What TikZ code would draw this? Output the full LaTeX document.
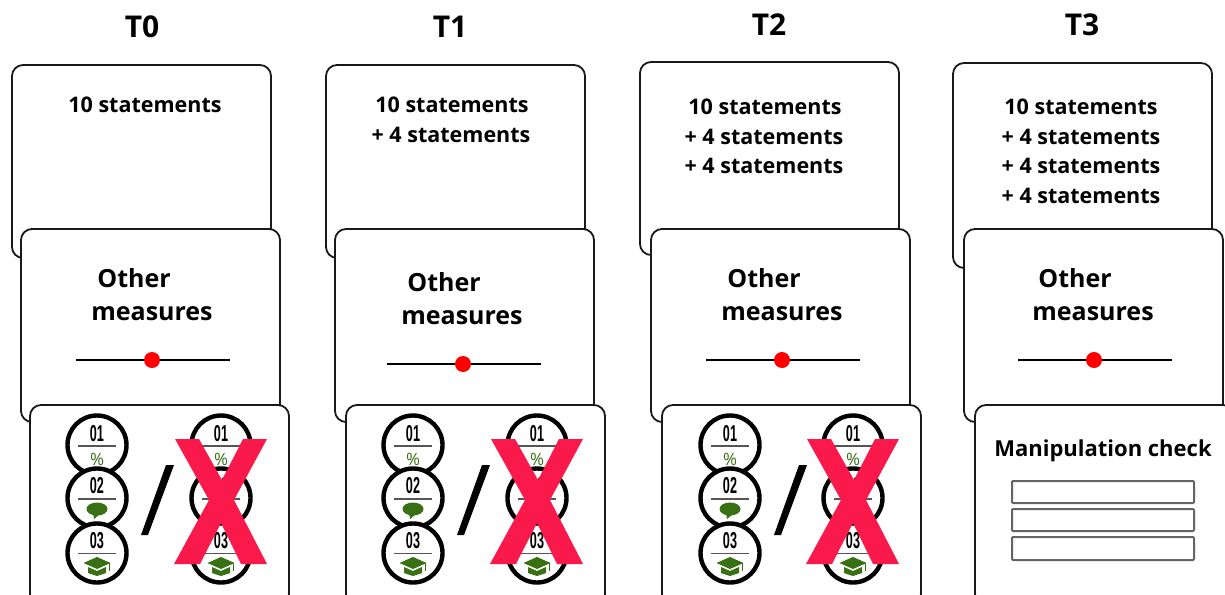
\documentclass[tikz,border=0pt]{standalone}
\usepackage{fontspec}
\setmainfont{Open Sans}
\newfontfamily\numfont{Liberation Sans}
\definecolor{xred}{RGB}{250,25,75}
\definecolor{icongreen}{RGB}{58,112,20}
\definecolor{boxgray}{RGB}{100,100,100}
\definecolor{rulegray}{RGB}{85,85,85}
\tikzset{
  x=1pt,y=-1pt,
  panel/.style={draw=black!90,fill=white,line width=1.8pt,rounded corners=11pt},
  stmt/.style={font=\fontsize{21.5}{24}\selectfont\bfseries,inner sep=0pt,anchor=center},
  mcheck/.style={font=\fontsize{22}{24}\selectfont\bfseries,inner sep=0pt,anchor=center},
  title/.style={font=\fontsize{30}{32}\selectfont\bfseries,inner sep=0pt,anchor=center},
  meas/.style={font=\fontsize{25}{28}\selectfont\bfseries,inner sep=0pt,anchor=center},
  badge/.style={draw=black,fill=white,line width=4.4pt},
  badgenum/.style={font=\fontsize{23}{24}\selectfont\numfont\bfseries,xscale=.55,inner sep=0pt,anchor=center},
  pct/.style={font=\fontsize{17}{18}\selectfont,text=icongreen,inner sep=0pt,anchor=center},
  badgerule/.style={draw=rulegray,line width=1.2pt},
  iconfill/.style={fill=icongreen,draw=none},
  redx/.style={fill=xred,draw=none},
  slash/.style={fill=black,draw=none},
  sliderline/.style={draw=black,line width=1.8pt},
  sliderdot/.style={fill=red,draw=none},
  inputbox/.style={draw=boxgray,fill=white,line width=2pt,rounded corners=1pt},
}
% single stack of three badges, centred on x = #1
\newcommand{\badgestack}[2]{%
  \begin{scope}[shift={(#1,0)}]
    \path[badge] (0,445) circle (29.5);
    \draw[badgerule] (-19,446) -- (19,446);
    \node[badgenum] (n#2a) at (0,434) {01};
    \node[pct] (p#2) at (0,459) {\%};
    \path[badge] (0,498) circle (29.5);
    \draw[badgerule] (-19,499) -- (19,499);
    \node[badgenum] (n#2b) at (0,486) {02};
    \path[iconfill] (0,509) ellipse (10.5 and 6.5);
    \path[iconfill] (-4,513) -- (-3,519) -- (3,514) -- cycle;
    \path[badge] (0,553) circle (29.5);
    \draw[badgerule] (-19,553.5) -- (19,553.5);
    \node[badgenum] (n#2c) at (0,541) {03};
    \path[iconfill] (0,557) -- (13.5,563) -- (0,569) -- (-13.5,563) -- cycle;
    \path[iconfill] (-9,567) -- (0,571) -- (9,567) -- (9,573) -- (0,576) -- (-9,573) -- cycle;
    \path[iconfill] (12,563) rectangle (13,571);
  \end{scope}}
% bottom panel with badges, slash and cross
\newcommand{\choicepanel}[4]{%
  \draw[panel] (#1,405) rectangle +(259,200);
  \badgestack{#2}{#4l}
  \badgestack{#3}{#4r}
  \begin{scope}[shift={(#2,0)}]
    \path[slash] (69,465) -- (77,465) -- (51,535) -- (44,535) -- cycle;
  \end{scope}
  \begin{scope}[shift={(#3,0)}]
    \path[redx] (-46,439) -- (-22,439) -- (1,480) -- (22,439) -- (46,439)
      -- (13,500) -- (46,564) -- (20,564) -- (0,523) -- (-21,564) -- (-47,564)
      -- (-12,500) -- cycle;
  \end{scope}}
\newcommand{\midpanel}[7]{%
  \draw[panel] (#1,229) rectangle +(259,193);
  \node[meas] (oth#7) at (#2,#3) {Other};
  \node[meas] (mea#7) at (#2+18,#3+36) {measures};
  \coordinate (sl#7) at (#4,#6);
  \coordinate (sr#7) at (#5,#6);
  \draw[sliderline] (sl#7) -- (sr#7);
  \path[sliderdot] ($(sl#7)!.5!(sr#7)+(-1,0)$) circle (8);
}
\usetikzlibrary{calc}
\begin{document}
\begin{tikzpicture}
\useasboundingbox (0,0) rectangle (1225,594);
\clip (0,0) rectangle (1225,594);
\fill[white] (0,0) rectangle (1225,594);

% titles
\node[title] (t0) at (142,27) {T0};
\node[title] (t1) at (450,27) {T1};
\node[title] (t2) at (769,25) {T2};
\node[title] (t3) at (1082,25) {T3};

% column T0
\draw[panel] (12,65) rectangle (271,258);
\node[stmt] (s0a) at (145,105) {10 statements};
\midpanel{21}{134}{278}{76}{230}{360}{0}
\choicepanel{30}{97}{221}{0}

% column T1
\draw[panel] (326,65) rectangle (585,258);
\node[stmt] (s1a) at (452,105) {10 statements};
\node[stmt] (s1b) at (451,134.5) {+ 4 statements};
\midpanel{335}{444}{282}{387}{541}{364}{1}
\choicepanel{346}{413}{537}{1}

% column T2
\draw[panel] (640,62) rectangle (899,255);
\node[stmt] (s2a) at (765,107) {10 statements};
\node[stmt] (s2b) at (764,136.5) {+ 4 statements};
\node[stmt] (s2c) at (764,166) {+ 4 statements};
\midpanel{651}{764}{278}{706}{860}{360}{2}
\choicepanel{662}{730}{853}{2}

% column T3
\draw[panel] (953,63) rectangle (1212,268);
\node[stmt] (s3a) at (1081,107) {10 statements};
\node[stmt] (s3b) at (1081,136.5) {+ 4 statements};
\node[stmt] (s3c) at (1081,166) {+ 4 statements};
\node[stmt] (s3d) at (1081,195.5) {+ 4 statements};
\midpanel{964}{1075}{278}{1018}{1172}{360}{3}
\draw[panel] (975,405) rectangle +(259,200);
\node[mcheck] (mc) at (1103,451) {Manipulation check};
\draw[inputbox] (1012,481) rectangle (1194,503);
\draw[inputbox] (1012,509) rectangle (1194,531);
\draw[inputbox] (1012,537) rectangle (1194,560);
\end{tikzpicture}
\end{document}
